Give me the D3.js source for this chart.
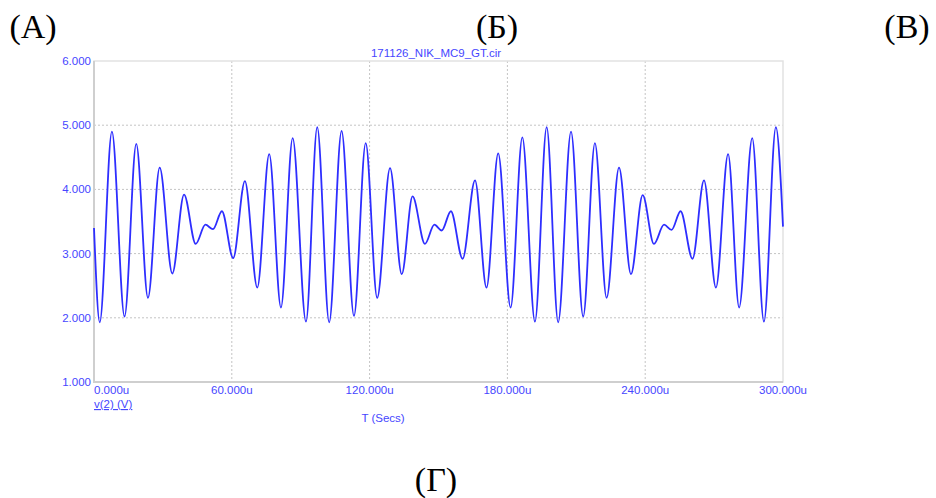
<!DOCTYPE html>
<html lang="ru">
<head>
  <meta charset="UTF-8">
  <title>171126_NIK_MC9_GT.cir</title>
  <script src="https://d3js.org/d3.v7.min.js"></script>
  <style>
    body { margin: 0; background: #fff; }
    svg { display: block; }
    .tick-label { font-family: 'Liberation Sans', Arial, sans-serif; font-size: 11.5px; fill: #4646ff; }
    .panel-label { font-family: 'Liberation Serif', 'Times New Roman', serif; font-size: 34px; fill: #000; }
  </style>
</head>
<body>
<div id="chart"></div>
<script>
  const timeUs = [0, 2.5, 7.8, 13.3, 18.4, 23.5, 28.6, 34.1, 39.2, 44.3,
    48.5, 51.8, 55.7, 60.6, 65.7, 71.1, 76.3, 81.4, 86.5, 92.3,
    97.2, 102.4, 107.8, 113.2, 118.3, 123.3, 128.9, 134.0, 138.7, 144.1,
    148.2, 151.4, 155.4, 160.5, 165.9, 170.9, 176.0, 181.4, 186.5, 192.0,
    197.1, 202.1, 207.7, 213.0, 218.1, 223.2, 228.6, 233.8, 238.9, 243.8,
    248.2, 251.5, 255.4, 260.6, 265.6, 270.8, 276.1, 280.9, 286.6, 291.7,
    296.9, 300];
  // напряжение v(2), В
  const voltV = [3.40, 1.93, 4.90, 2.02, 4.71, 2.31, 4.34, 2.69, 3.92, 3.15,
    3.45, 3.38, 3.66, 2.93, 4.13, 2.47, 4.55, 2.16, 4.80, 1.94,
    4.97, 1.93, 4.91, 2.03, 4.72, 2.31, 4.33, 2.68, 3.89, 3.15,
    3.45, 3.36, 3.66, 2.92, 4.14, 2.47, 4.56, 2.16, 4.81, 1.94,
    4.97, 1.93, 4.90, 2.02, 4.72, 2.31, 4.34, 2.68, 3.91, 3.15,
    3.45, 3.37, 3.66, 2.92, 4.14, 2.47, 4.55, 2.16, 4.80, 1.94,
    4.97, 3.42];

  const xTicks = [0, 60, 120, 180, 240, 300];
  const yTicks = [1, 2, 3, 4, 5, 6];
  const xTickLabels = ["0.000u", "60.000u", "120.000u", "180.000u", "240.000u", "300.000u"];
  const yTickLabels = ["1.000", "2.000", "3.000", "4.000", "5.000", "6.000"];
  const panelLabels = ["(А)", "(Б)", "(В)", "(Г)"];

  const W = 936, H = 498;
  const plot = { left: 94, right: 783, top: 61, bottom: 382 };

  const svg = d3.select("#chart").append("svg")
    .attr("width", W)
    .attr("height", H);

  const x = d3.scaleLinear().domain([0, 300]).range([plot.left, plot.right]);
  const y = d3.scaleLinear().domain([1, 6]).range([plot.bottom, plot.top]);

  // сетка
  svg.append("g")
    .selectAll("line.vg")
    .data(xTicks.slice(1, -1))
    .join("line")
    .attr("x1", d => x(d)).attr("x2", d => x(d))
    .attr("y1", plot.top).attr("y2", plot.bottom)
    .attr("stroke", "#c4c4c4").attr("stroke-dasharray", "2,2");

  svg.append("g")
    .selectAll("line.hg")
    .data(yTicks.slice(1, -1))
    .join("line")
    .attr("x1", plot.left).attr("x2", plot.right)
    .attr("y1", d => y(d)).attr("y2", d => y(d))
    .attr("stroke", "#c4c4c4").attr("stroke-dasharray", "2,2");

  // рамка
  svg.append("rect")
    .attr("x", plot.left).attr("y", plot.top)
    .attr("width", plot.right - plot.left).attr("height", plot.bottom - plot.top)
    .attr("fill", "none").attr("stroke", "#e2e2e2").attr("stroke-width", 1.5);
  svg.append("path")
    .attr("d", `M${plot.left},${plot.top}V${plot.bottom}H${plot.right}`)
    .attr("fill", "none").attr("stroke", "#cfcfcf").attr("stroke-width", 2);

  // кривая
  const pts = timeUs.map((t, i) => [t, voltV[i]]);
  const line = d3.line()
    .x(d => x(d[0]))
    .y(d => y(d[1]))
    .curve(d3.curveMonotoneX);

  svg.append("path")
    .datum(pts)
    .attr("d", line)
    .attr("fill", "none")
    .attr("stroke", "#2e2eff")
    .attr("stroke-width", 1.8)
    .attr("stroke-linejoin", "round");

  // подписи осей
  svg.append("g")
    .selectAll("text")
    .data(yTicks)
    .join("text")
    .attr("class", "tick-label")
    .attr("x", plot.left - 3)
    .attr("y", d => y(d) + 4)
    .attr("text-anchor", "end")
    .text((d, i) => yTickLabels[i]);

  svg.append("g")
    .selectAll("text")
    .data(xTicks)
    .join("text")
    .attr("class", "tick-label")
    .attr("x", d => x(d))
    .attr("y", plot.bottom + 12)
    .attr("text-anchor", (d, i) => i === 0 ? "start" : "middle")
    .text((d, i) => xTickLabels[i]);

  svg.append("text")
    .attr("class", "tick-label")
    .attr("x", plot.left)
    .attr("y", plot.bottom + 26)
    .attr("text-decoration", "underline")
    .text("v(2) (V)");

  svg.append("text")
    .attr("class", "tick-label")
    .attr("x", 383)
    .attr("y", plot.bottom + 40)
    .attr("text-anchor", "middle")
    .text("T (Secs)");

  svg.append("text")
    .attr("class", "tick-label")
    .attr("x", 436)
    .attr("y", 57)
    .attr("text-anchor", "middle")
    .text("171126_NIK_MC9_GT.cir");

  // метки панелей
  const panelPos = [[33, 38], [497, 38], [907, 38], [436, 491]];
  svg.append("g")
    .selectAll("text")
    .data(panelLabels)
    .join("text")
    .attr("class", "panel-label")
    .attr("x", (d, i) => panelPos[i][0])
    .attr("y", (d, i) => panelPos[i][1])
    .attr("text-anchor", "middle")
    .text(d => d);
</script>
</body>
</html>
